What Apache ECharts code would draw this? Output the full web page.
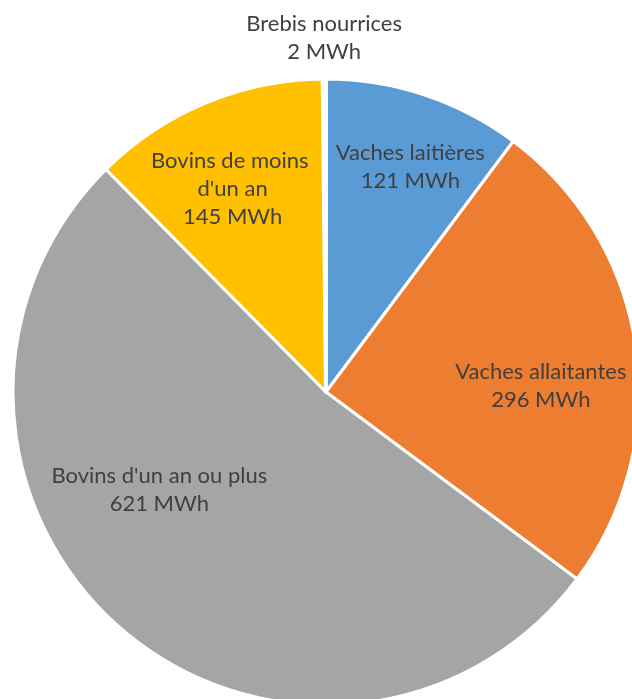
<!DOCTYPE html>
<html>
<head>
<meta charset="utf-8">
<script src="https://cdn.jsdelivr.net/npm/echarts@6/dist/echarts.min.js"></script>
<style>
  html, body { margin: 0; padding: 0; background: #ffffff; }
  #chart { width: 632px; height: 699px; }
</style>
</head>
<body>
<div id="chart"></div>
<script>
// Consommation d'énergie par catégorie d'animaux (MWh)
const categories = [
  "Vaches laitières",
  "Vaches allaitantes",
  "Bovins d'un an ou plus",
  "Bovins de moins d'un an",
  "Brebis nourrices"
];
const values = [121, 296, 621, 145, 2];
const unit = "MWh";

// Slice colours, in category order
const colors = ["#5B9BD5", "#ED7D31", "#A5A5A5", "#FFC000", "#4472C4"];

// Label nudges from the default in-slice position, in pixels
const labelOffsets = [[34, -74], [57, 17], [-62, -22], [-32, -56], [-1, -195]];
// Wrap width for labels that span several lines
const labelWidths = [null, null, null, 185, null];

const chart = echarts.init(document.getElementById("chart"), null, { renderer: "canvas" });

const data = categories.map((name, i) => {
  const label = { offset: labelOffsets[i] };
  if (labelWidths[i]) {
    label.width = labelWidths[i];
    label.overflow = "break";
  }
  const item = { name: name, value: values[i], itemStyle: { color: colors[i] }, label: label };
  // the tiny slice sits under its white outline
  if (values[i] < 10) item.itemStyle.borderWidth = 4;
  return item;
});

chart.setOption({
  animation: false,
  backgroundColor: "#ffffff",
  series: [{
    type: "pie",
    center: [326, 392],
    radius: [0, 313],
    startAngle: 90,
    clockwise: true,
    avoidLabelOverlap: false,
    itemStyle: { borderColor: "#ffffff", borderWidth: 3 },
    label: {
      show: true,
      position: "inside",
      formatter: p => p.name + "\n" + p.value + " " + unit,
      color: "#404040",
      fontFamily: "Lato",
      fontSize: 22,
      lineHeight: 28,
      align: "center"
    },
    labelLine: { show: false },
    emphasis: { disabled: true },
    data: data
  }]
});
</script>
</body>
</html>
